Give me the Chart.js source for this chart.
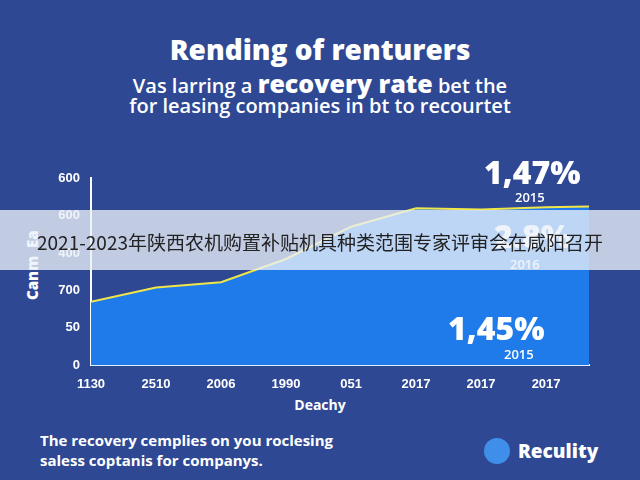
<!DOCTYPE html><html><head><meta charset="utf-8"><script src="https://cdn.jsdelivr.net/npm/chart.js@4"></script>
<style>body{margin:0;width:640px;height:480px;background:#2e4894;overflow:hidden;font-family:"Open Sans",sans-serif;position:relative}
.t{position:absolute;left:0;width:640px;text-align:center;color:#fff}
#c{position:absolute;left:0;top:160px}
</style></head><body>
<div class="t" style="top:30px;font-size:28px;font-weight:800">Rending of renturers</div>
<div class="t" style="top:66px;font-size:20px;font-weight:600">Vas larring a <b style="font-size:25px;font-weight:800">recovery rate</b> bet the</div>
<div class="t" style="top:92px;font-size:20px;font-weight:600">for leasing companies in bt to recourtet</div>
<div style="position:absolute;left:22px;top:300px;transform:rotate(-90deg);transform-origin:left top;color:#fff;font-weight:800;font-size:15px">Canm &nbsp;Ea</div>
<canvas id="c" width="640" height="235"></canvas>
<div style="position:absolute;left:484px;top:150px;color:#fff;font-weight:800;font-size:32px">1,47%</div>
<div style="position:absolute;left:515px;top:188px;color:#fff;font-weight:600;font-size:13px">2015</div>
<div style="position:absolute;left:494px;top:214px;color:#fff;font-weight:800;font-size:32px">2.8%</div>
<div style="position:absolute;left:510px;top:255px;color:#fff;font-weight:600;font-size:13px">2016</div>
<div style="position:absolute;left:448px;top:306px;color:#fff;font-weight:800;font-size:32px">1,45%</div>
<div style="position:absolute;left:504px;top:345px;color:#fff;font-weight:600;font-size:13px">2015</div>
<div style="position:absolute;left:0;top:210px;width:640px;height:60px;background:rgba(235,240,248,0.78)"></div>
<div class="t" style="top:228px;font-size:19px;color:#222;font-family:'Noto Sans CJK SC'">2021-2023年陕西农机购置补贴机具种类范围专家评审会在咸阳召开</div>
<div class="t" style="top:395px;font-size:14px;font-weight:700">Deachy</div>
<div style="position:absolute;left:40px;top:430px;color:#fff;font-weight:700;font-size:15px;line-height:20px">The recovery cemplies on you roclesing<br>saless coptanis for companys.</div>
<div style="position:absolute;left:484px;top:438px;width:26px;height:26px;border-radius:50%;background:#3f8fea"></div>
<div style="position:absolute;left:518px;top:438px;color:#fff;font-weight:800;font-size:19px">Reculity</div>
<script>
const xLabels=['1130','2510','2006','1990','051','2017','2017','2017'];
const yLabels=['0','50','700','400','600','600'];
const xs=[0,1,2,3,4,5,6,7,7.66];
const vals=[1.70,2.08,2.22,2.84,3.70,4.19,4.16,4.22,4.24];
new Chart(document.getElementById('c'),{type:'line',
data:{datasets:[{data:xs.map((x,i)=>({x:x,y:vals[i]})),borderColor:'#f0e64a',borderWidth:2,backgroundColor:'#1f7be9',fill:'origin',pointRadius:0,tension:0}]},
options:{responsive:false,animation:false,plugins:{legend:{display:false},tooltip:{enabled:false}},
layout:{padding:{left:0,right:51,top:18,bottom:0}},
scales:{x:{type:'linear',min:0,max:7.66,afterBuildTicks:s=>{s.ticks=xLabels.map((l,i)=>({value:i}))},ticks:{autoSkip:false,maxRotation:0,color:'#fff',font:{size:13,weight:'bold'},callback:v=>xLabels[v]??''},grid:{display:false},border:{color:'#fff',width:2}},
y:{min:0,max:5,afterFit:s=>{s.width=91},ticks:{stepSize:1,color:'#fff',font:{size:13,weight:'bold'},callback:v=>yLabels[v]},grid:{display:false},border:{color:'#fff',width:2}}}}});
</script></body></html>
